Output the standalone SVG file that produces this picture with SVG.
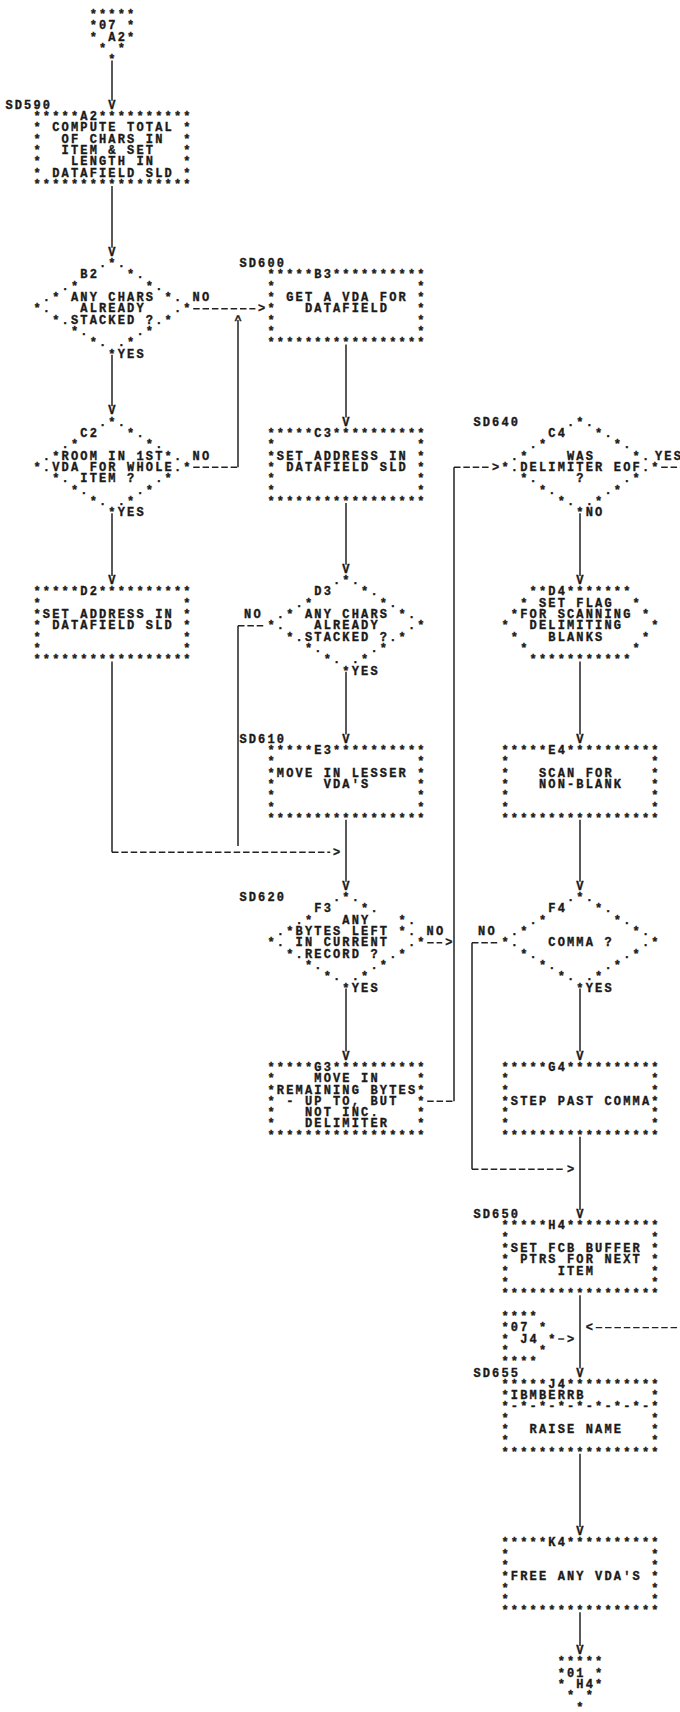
<svg xmlns="http://www.w3.org/2000/svg" width="680" height="1712" viewBox="0 0 680 1712" xml:space="preserve">
<defs>
<style>
text { font-family: "Liberation Mono", "DejaVu Sans Mono", monospace; font-size: 12px; letter-spacing: 2.16px; fill: #1a1a1a; stroke: #1a1a1a; stroke-width: 0.35px; white-space: pre; font-weight: bold; }
.ln { stroke: #222; stroke-width: 1.5; fill: none; }
.ds { stroke: #222; stroke-width: 1.4; fill: none; stroke-dasharray: 6.5 2.86; }
</style>
</defs>
<rect width="680" height="1712" fill="#ffffff"/>

<g id="connectors">
<line class="ln" x1="112" y1="60.4" x2="112" y2="100.7"/>
<text x="108.36" y="108.68">V</text>
<line class="ln" x1="112" y1="185.9" x2="112" y2="247.8"/>
<text x="108.36" y="255.84">V</text>
<line class="ds" x1="193.2" y1="308.8" x2="255.4" y2="308.8"/>
<text x="258.12" y="312.44">&gt;</text>
<line class="ln" x1="112" y1="354.7" x2="112" y2="406.3"/>
<text x="108.36" y="414.32">V</text>
<line class="ds" x1="193.2" y1="467.3" x2="238" y2="467.3"/>
<line class="ln" x1="238" y1="467.3" x2="238" y2="320"/>
<text x="234.4" y="323.76">^</text>
<line class="ln" x1="112" y1="513.2" x2="112" y2="576.1"/>
<text x="108.36" y="584.12">V</text>
<line class="ln" x1="112" y1="661.4" x2="112" y2="852.2"/>
<line class="ds" x1="112" y1="852.2" x2="330.2" y2="852.2"/>
<text x="333" y="855.8">&gt;</text>
<line class="ln" x1="346" y1="344.4" x2="346" y2="417.6"/>
<text x="342.36" y="425.64">V</text>
<line class="ln" x1="346" y1="502.9" x2="346" y2="564.8"/>
<text x="342.36" y="572.8">V</text>
<line class="ds" x1="238" y1="625.8" x2="264.7" y2="625.8"/>
<line class="ln" x1="238" y1="625.8" x2="238" y2="846"/>
<line class="ln" x1="346" y1="671.7" x2="346" y2="734.6"/>
<text x="342.36" y="742.6">V</text>
<line class="ln" x1="346" y1="819.8" x2="346" y2="881.8"/>
<text x="342.36" y="889.76">V</text>
<line class="ds" x1="427.2" y1="942.8" x2="442.2" y2="942.8"/>
<text x="445.32" y="946.36">&gt;</text>
<line class="ln" x1="346" y1="988.6" x2="346" y2="1051.6"/>
<text x="342.36" y="1059.56">V</text>
<line class="ds" x1="427.2" y1="1101.2" x2="454" y2="1101.2"/>
<line class="ln" x1="454" y1="1101.2" x2="454" y2="467.3"/>
<line class="ds" x1="454" y1="467.3" x2="489.4" y2="467.3"/>
<text x="492.12" y="470.92">&gt;</text>
<line class="ds" x1="661.2" y1="467.3" x2="680" y2="467.3"/>
<line class="ln" x1="580" y1="513.2" x2="580" y2="576.1"/>
<text x="576.36" y="584.12">V</text>
<line class="ln" x1="580" y1="661.4" x2="580" y2="734.6"/>
<text x="576.36" y="742.6">V</text>
<line class="ln" x1="580" y1="819.8" x2="580" y2="881.8"/>
<text x="576.36" y="889.76">V</text>
<line class="ln" x1="580" y1="988.6" x2="580" y2="1051.6"/>
<text x="576.36" y="1059.56">V</text>
<line class="ds" x1="472" y1="942.8" x2="498.7" y2="942.8"/>
<line class="ln" x1="472" y1="942.8" x2="472" y2="1169.2"/>
<line class="ds" x1="472" y1="1169.2" x2="564.2" y2="1169.2"/>
<text x="567" y="1172.76">&gt;</text>
<line class="ln" x1="580" y1="1136.8" x2="580" y2="1210"/>
<text x="576.36" y="1218.04">V</text>
<line class="ln" x1="580" y1="1295.3" x2="580" y2="1368.5"/>
<text x="576.36" y="1376.52">V</text>
<line class="ds" x1="558.2" y1="1339" x2="564.2" y2="1339"/>
<text x="567" y="1342.56">&gt;</text>
<text x="585.72" y="1331.24">&lt;</text>
<line class="ds" x1="595.7" y1="1327.6" x2="680" y2="1327.6"/>
<line class="ln" x1="580" y1="1453.8" x2="580" y2="1527"/>
<text x="576.36" y="1535">V</text>
<line class="ln" x1="580" y1="1612.2" x2="580" y2="1646"/>
<text x="576.36" y="1654">V</text>
</g>

<g id="off_07_A2">
<text x="89.64" y="18.12">*****</text>
<text x="89.64" y="29.44">*07 *</text>
<text x="89.64" y="40.76">* A2*</text>
<text x="89.64" y="52.08"> * *</text>
<text x="89.64" y="63.4">  *</text>
</g>

<g id="A2">
<text x="5.4" y="108.68">SD590</text>
<text x="33.48" y="120">*****A2**********</text>
<text x="33.48" y="131.32">* COMPUTE TOTAL *</text>
<text x="33.48" y="142.64">*  OF CHARS IN  *</text>
<text x="33.48" y="153.96">*  ITEM &amp; SET   *</text>
<text x="33.48" y="165.28">*   LENGTH IN   *</text>
<text x="33.48" y="176.6">* DATAFIELD SLD *</text>
<text x="33.48" y="187.92">*****************</text>
</g>

<g id="B2">
<text x="99" y="267.16">.*.</text>
<text x="80.28" y="278.48">B2   *.</text>
<text x="61.56" y="289.8">.*       *.</text>
<text x="42.84" y="301.12">.* ANY CHARS *. NO</text>
<text x="33.48" y="312.44">*.   ALREADY   .*</text>
<text x="52.2" y="323.76">*.STACKED ?.*</text>
<text x="70.92" y="335.08">*.     .*</text>
<text x="89.64" y="346.4">*. .*</text>
<text x="108.36" y="357.72">*YES</text>
</g>

<g id="B3">
<text x="239.4" y="267.16">SD600</text>
<text x="267.48" y="278.48">*****B3**********</text>
<text x="267.48" y="289.8">*               *</text>
<text x="267.48" y="301.12">* GET A VDA FOR *</text>
<text x="267.48" y="312.44">*   DATAFIELD   *</text>
<text x="267.48" y="323.76">*               *</text>
<text x="267.48" y="335.08">*               *</text>
<text x="267.48" y="346.4">*****************</text>
</g>

<g id="C2">
<text x="99" y="425.64">.*.</text>
<text x="80.28" y="436.96">C2   *.</text>
<text x="61.56" y="448.28">.*       *.</text>
<text x="42.84" y="459.6">.*ROOM IN 1ST*. NO</text>
<text x="33.48" y="470.92">*.VDA FOR WHOLE.*</text>
<text x="52.2" y="482.24">*. ITEM ?  .*</text>
<text x="70.92" y="493.56">*.     .*</text>
<text x="89.64" y="504.88">*. .*</text>
<text x="108.36" y="516.2">*YES</text>
</g>

<g id="C3">
<text x="267.48" y="436.96">*****C3**********</text>
<text x="267.48" y="448.28">*               *</text>
<text x="267.48" y="459.6">*SET ADDRESS IN *</text>
<text x="267.48" y="470.92">* DATAFIELD SLD *</text>
<text x="267.48" y="482.24">*               *</text>
<text x="267.48" y="493.56">*               *</text>
<text x="267.48" y="504.88">*****************</text>
</g>

<g id="C4">
<text x="473.4" y="425.64">SD640</text>
<text x="567" y="425.64">.*.</text>
<text x="548.28" y="436.96">C4   *.</text>
<text x="529.56" y="448.28">.*       *.</text>
<text x="510.84" y="459.6">.*    WAS    *.</text>
<text x="655" y="459.6">YES</text>
<text x="501.48" y="470.92">*.DELIMITER EOF.*</text>
<text x="520.2" y="482.24">*.    ?    .*</text>
<text x="538.92" y="493.56">*.     .*</text>
<text x="557.64" y="504.88">*. .*</text>
<text x="576.36" y="516.2">*NO</text>
</g>

<g id="D2">
<text x="33.48" y="595.44">*****D2**********</text>
<text x="33.48" y="606.76">*               *</text>
<text x="33.48" y="618.08">*SET ADDRESS IN *</text>
<text x="33.48" y="629.4">* DATAFIELD SLD *</text>
<text x="33.48" y="640.72">*               *</text>
<text x="33.48" y="652.04">*               *</text>
<text x="33.48" y="663.36">*****************</text>
</g>

<g id="D3">
<text x="333" y="584.12">.*.</text>
<text x="314.28" y="595.44">D3   *.</text>
<text x="295.56" y="606.76">.*       *.</text>
<text x="244.08" y="618.08">NO</text>
<text x="276.84" y="618.08">.* ANY CHARS *.</text>
<text x="267.48" y="629.4">*.   ALREADY   .*</text>
<text x="286.2" y="640.72">*.STACKED ?.*</text>
<text x="304.92" y="652.04">*.     .*</text>
<text x="323.64" y="663.36">*. .*</text>
<text x="342.36" y="674.68">*YES</text>
</g>

<g id="D4">
<text x="529.56" y="595.44">**D4*******</text>
<text x="520.2" y="606.76">* SET FLAG  *</text>
<text x="510.84" y="618.08">*FOR SCANNING *</text>
<text x="501.48" y="629.4">*  DELIMITING   *</text>
<text x="510.84" y="640.72">*   BLANKS    *</text>
<text x="520.2" y="652.04">*           *</text>
<text x="529.56" y="663.36">***********</text>
</g>

<g id="E3">
<text x="239.4" y="742.6">SD610</text>
<text x="267.48" y="753.92">*****E3**********</text>
<text x="267.48" y="765.24">*               *</text>
<text x="267.48" y="776.56">*MOVE IN LESSER *</text>
<text x="267.48" y="787.88">*     VDA'S     *</text>
<text x="267.48" y="799.2">*               *</text>
<text x="267.48" y="810.52">*               *</text>
<text x="267.48" y="821.84">*****************</text>
</g>

<g id="E4">
<text x="501.48" y="753.92">*****E4**********</text>
<text x="501.48" y="765.24">*               *</text>
<text x="501.48" y="776.56">*   SCAN FOR    *</text>
<text x="501.48" y="787.88">*   NON-BLANK   *</text>
<text x="501.48" y="799.2">*               *</text>
<text x="501.48" y="810.52">*               *</text>
<text x="501.48" y="821.84">*****************</text>
</g>

<g id="F3">
<text x="239.4" y="901.08">SD620</text>
<text x="333" y="901.08">.*.</text>
<text x="314.28" y="912.4">F3   *.</text>
<text x="295.56" y="923.72">.*   ANY   *.</text>
<text x="276.84" y="935.04">.*BYTES LEFT *. NO</text>
<text x="267.48" y="946.36">*. IN CURRENT  .*</text>
<text x="286.2" y="957.68">*.RECORD ? .*</text>
<text x="304.92" y="969">*.     .*</text>
<text x="323.64" y="980.32">*. .*</text>
<text x="342.36" y="991.64">*YES</text>
</g>

<g id="F4">
<text x="567" y="901.08">.*.</text>
<text x="548.28" y="912.4">F4   *.</text>
<text x="529.56" y="923.72">.*       *.</text>
<text x="478.08" y="935.04">NO</text>
<text x="510.84" y="935.04">.*           *.</text>
<text x="501.48" y="946.36">*.   COMMA ?   .*</text>
<text x="520.2" y="957.68">*.         .*</text>
<text x="538.92" y="969">*.     .*</text>
<text x="557.64" y="980.32">*. .*</text>
<text x="576.36" y="991.64">*YES</text>
</g>

<g id="G3">
<text x="267.48" y="1070.88">*****G3**********</text>
<text x="267.48" y="1082.2">*    MOVE IN    *</text>
<text x="267.48" y="1093.52">*REMAINING BYTES*</text>
<text x="267.48" y="1104.84">* - UP TO, BUT  *</text>
<text x="267.48" y="1116.16">*   NOT INC.    *</text>
<text x="267.48" y="1127.48">*   DELIMITER   *</text>
<text x="267.48" y="1138.8">*****************</text>
</g>

<g id="G4">
<text x="501.48" y="1070.88">*****G4**********</text>
<text x="501.48" y="1082.2">*               *</text>
<text x="501.48" y="1093.52">*               *</text>
<text x="501.48" y="1104.84">*STEP PAST COMMA*</text>
<text x="501.48" y="1116.16">*               *</text>
<text x="501.48" y="1127.48">*               *</text>
<text x="501.48" y="1138.8">*****************</text>
</g>

<g id="H4">
<text x="473.4" y="1218.04">SD650</text>
<text x="501.48" y="1229.36">*****H4**********</text>
<text x="501.48" y="1240.68">*               *</text>
<text x="501.48" y="1252">*SET FCB BUFFER *</text>
<text x="501.48" y="1263.32">* PTRS FOR NEXT *</text>
<text x="501.48" y="1274.64">*     ITEM      *</text>
<text x="501.48" y="1285.96">*               *</text>
<text x="501.48" y="1297.28">*****************</text>
</g>

<g id="off_07_J4">
<text x="501.48" y="1319.92">****</text>
<text x="501.48" y="1331.24">*07 *</text>
<text x="501.48" y="1342.56">* J4 *</text>
<text x="501.48" y="1353.88">*   *</text>
<text x="501.48" y="1365.2">****</text>
</g>

<g id="J4">
<text x="473.4" y="1376.52">SD655</text>
<text x="501.48" y="1387.84">*****J4**********</text>
<text x="501.48" y="1399.16">*IBMBERRB       *</text>
<text x="501.48" y="1410.48">*-*-*-*-*-*-*-*-*</text>
<text x="501.48" y="1421.8">*               *</text>
<text x="501.48" y="1433.12">*  RAISE NAME   *</text>
<text x="501.48" y="1444.44">*               *</text>
<text x="501.48" y="1455.76">*****************</text>
</g>

<g id="K4">
<text x="501.48" y="1546.32">*****K4**********</text>
<text x="501.48" y="1557.64">*               *</text>
<text x="501.48" y="1568.96">*               *</text>
<text x="501.48" y="1580.28">*FREE ANY VDA'S *</text>
<text x="501.48" y="1591.6">*               *</text>
<text x="501.48" y="1602.92">*               *</text>
<text x="501.48" y="1614.24">*****************</text>
</g>

<g id="off_01_H4">
<text x="557.64" y="1665.4">*****</text>
<text x="557.64" y="1676.7">*01 *</text>
<text x="557.64" y="1688">* H4*</text>
<text x="557.64" y="1699.3"> * *</text>
<text x="557.64" y="1710.6">  *</text>
</g>
</svg>
